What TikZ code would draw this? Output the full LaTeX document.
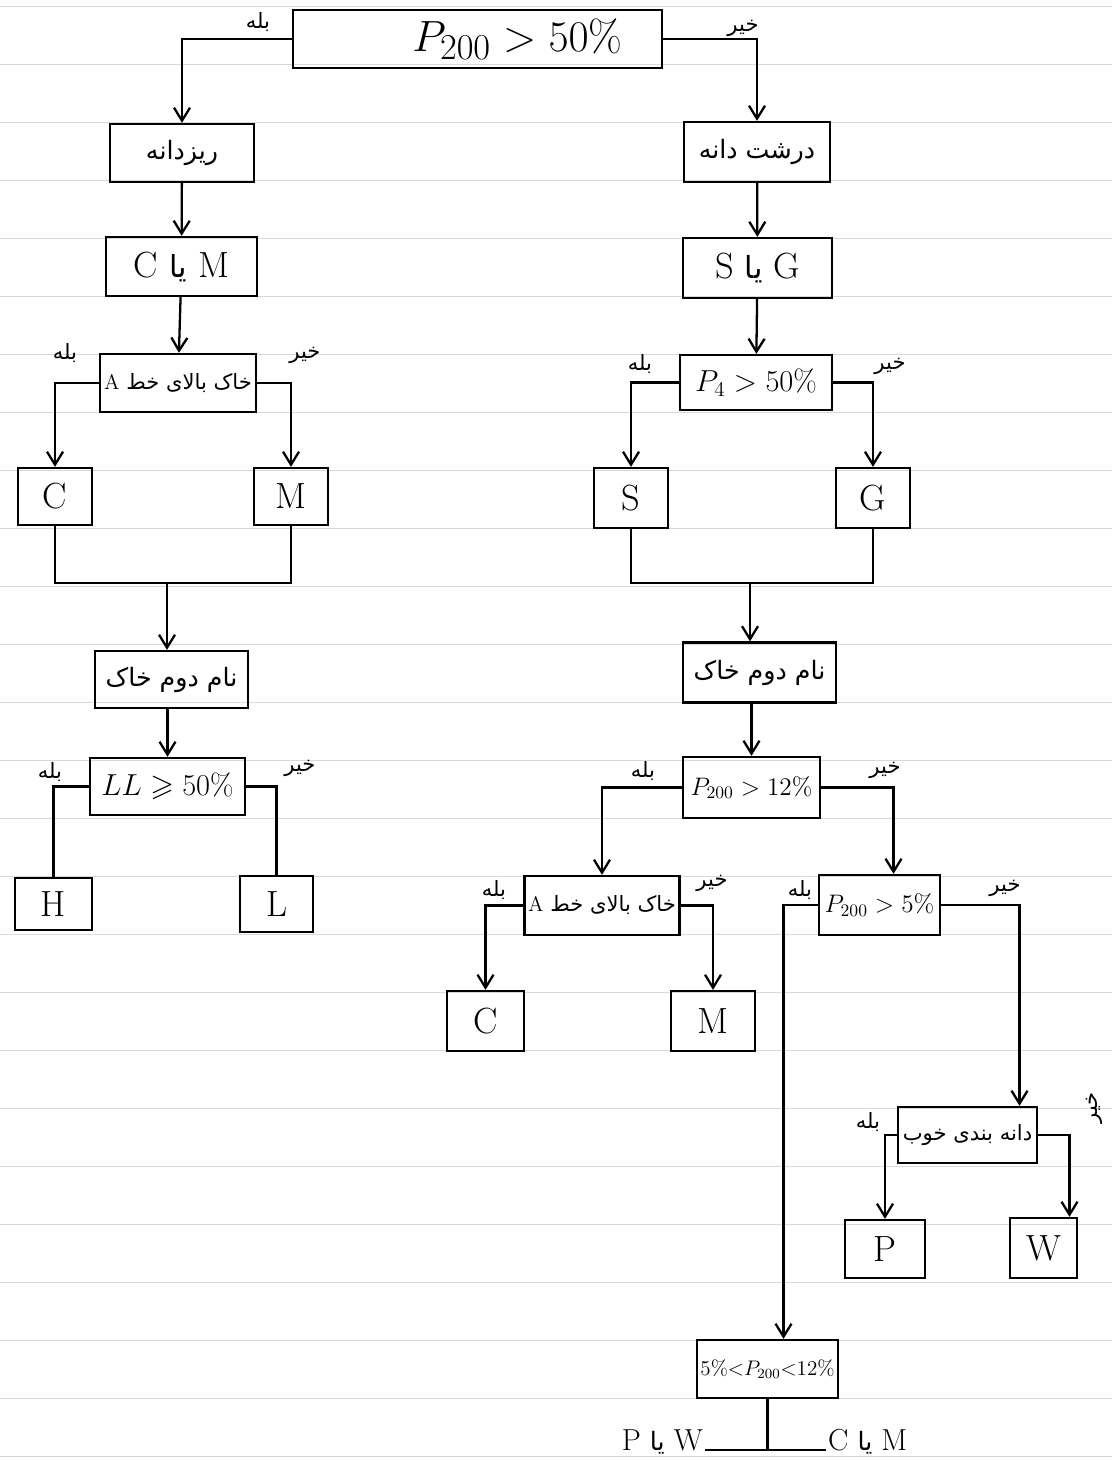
\documentclass[tikz,border=0pt]{standalone}
\usepackage{amsmath, amssymb}
\usepackage{fontspec}
\newfontfamily\arabicfont[Script=Arabic]{DejaVu Sans}
\TeXXeTstate=1
\newcommand{\farsi}[1]{{\arabicfont\beginR #1\endR}}
\usepackage{tikz}
\usetikzlibrary{
  arrows.meta%
}
\tikzset{>={Straight Barb[length=2.6mm,width=3.2mm]}}
\tikzset{box/.style={draw, line width=1.3pt, inner sep=2pt, font=\LARGE}}
\tikzset{fabox/.style={box, font=\Large}}
\tikzset{letter/.style={box, font=\huge}}
\tikzset{lab/.style={font=\large, inner sep=1pt}}
\tikzset{link/.style={line width=1.3pt}}
\tikzset{ruled/.style={gray!30, line width=0.5pt}}

\begin{document}
\begin{tikzpicture}[x=0.02cm, y=-0.02cm]
  \useasboundingbox (0,0) rectangle (1112,1460);
  % notebook lines
  \foreach \k in {0,...,25}
    \draw[ruled] (0,6+58*\k) -- (1112,6+58*\k);

  \node[box, font=\Huge, minimum width=7.38cm, minimum height=1.16cm] (top) at (477.5,39) {\hspace{1.6cm}$P_{200} > 50\%$};

  % fine grained
  \node[fabox, minimum width=2.88cm, minimum height=1.16cm] (fine) at (182,153) {\farsi{ریزدانه}};
  \node[letter, minimum width=3.02cm, minimum height=1.18cm] (cmL) at (181.5,266.5) {C {\LARGE\farsi{یا}} M};
  \node[fabox, font=\large, minimum width=3.12cm, minimum height=1.16cm] (aL) at (178,383) {A \farsi{خاک بالای خط}};
  \node[letter, minimum width=1.48cm, minimum height=1.14cm] (cL) at (55,496.5) {C};
  \node[letter, minimum width=1.48cm, minimum height=1.14cm] (mL) at (291,496.5) {M};
  \coordinate (joinL) at (167,583);
  \node[fabox, minimum width=3.06cm, minimum height=1.14cm] (nameL) at (171.5,679.5) {\farsi{نام دوم خاک}};
  \node[box, minimum width=3.1cm, minimum height=1.14cm] (ll) at (167.5,786.5) {$LL \geqslant 50\%$};
  \node[letter, minimum width=1.54cm, minimum height=1.04cm] (hL) at (53.5,904) {H};
  \node[letter, minimum width=1.46cm, minimum height=1.12cm] (lL) at (276.5,904) {L};

  % coarse grained
  \node[fabox, minimum width=2.92cm, minimum height=1.2cm] (coarse) at (757,152) {\farsi{درشت دانه}};
  \node[letter, minimum width=2.98cm, minimum height=1.2cm] (sgR) at (757.5,268) {S {\LARGE\farsi{یا}} G};
  \node[box, minimum width=3.04cm, minimum height=1.1cm] (p4) at (756,382.5) {$P_4 > 50\%$};
  \node[letter, minimum width=1.48cm, minimum height=1.2cm] (sR) at (631,498) {S};
  \node[letter, minimum width=1.48cm, minimum height=1.2cm] (gR) at (873,498) {G};
  \coordinate (joinR) at (750,583);
  \node[fabox, minimum width=3.06cm, minimum height=1.2cm] (nameR) at (759.5,672.5) {\farsi{نام دوم خاک}};
  \node[box, font=\Large, minimum width=2.74cm, minimum height=1.22cm] (p12) at (751.5,787.5) {$P_{200} > 12\%$};
  \node[fabox, font=\large, minimum width=3.04cm, minimum height=1.18cm] (aR) at (602,905.5) {A \farsi{خاک بالای خط}};
  \node[letter, minimum width=1.54cm, minimum height=1.2cm] (cR) at (485.5,1021) {C};
  \node[letter, minimum width=1.68cm, minimum height=1.2cm] (mR) at (713,1021) {M};
  \node[box, font=\Large, minimum width=2.42cm, minimum height=1.2cm] (p5) at (879.5,905) {$P_{200} > 5\%$};
  \node[fabox, font=\large, minimum width=2.78cm, minimum height=1.12cm] (grad) at (967.5,1135) {\farsi{دانه بندی خوب}};
  \node[letter, minimum width=1.6cm, minimum height=1.16cm] (pR) at (885,1249) {P};
  \node[letter, minimum width=1.34cm, minimum height=1.2cm] (wR) at (1043.5,1248) {W};
  \node[box, font=\large, minimum width=2.82cm, minimum height=1.16cm] (mid) at (767.5,1369) {$5\%{<}P_{200}{<}12\%$};
  \node[font=\LARGE, anchor=base east, inner sep=1pt] (pw) at (705,1450) {P {\Large\farsi{یا}} W};
  \node[font=\LARGE, anchor=base west, inner sep=1pt] (cmB) at (826,1450) {C {\Large\farsi{یا}} M};

  % yes / no labels
  \node[lab] (y0) at (258,22) {\farsi{بله}};
  \node[lab] (n0) at (743,28) {\farsi{خیر}};
  \node[lab] (y1) at (65,353) {\farsi{بله}};
  \node[lab] (n1) at (305,355) {\farsi{خیر}};
  \node[lab] (y2) at (640,364) {\farsi{بله}};
  \node[lab] (n2) at (890,366) {\farsi{خیر}};
  \node[lab] (y3) at (50,772) {\farsi{بله}};
  \node[lab] (n3) at (300,768) {\farsi{خیر}};
  \node[lab] (y4) at (643,771) {\farsi{بله}};
  \node[lab] (n4) at (885,770) {\farsi{خیر}};
  \node[lab] (y5) at (494,890) {\farsi{بله}};
  \node[lab] (n5) at (712,883) {\farsi{خیر}};
  \node[lab] (y6) at (800,890) {\farsi{بله}};
  \node[lab] (n6) at (1005,888) {\farsi{خیر}};
  \node[lab] (y7) at (868,1122) {\farsi{بله}};
  \node[lab, rotate=90] (n7) at (1094,1108) {\farsi{خیر}};

  % connectors, left
  \draw[link,->] (top.west) -| (fine.north);
  \draw[link,->] (fine) -- (cmL);
  \draw[link,->] (cmL) -- (aL);
  \draw[link,->] (aL.west) -| (cL.north);
  \draw[link,->] (aL.east) -| (mL.north);
  \draw[link] (cL.south) |- (joinL) -| (mL.south);
  \draw[link,->] (joinL) -- (joinL |- nameL.north);
  \draw[link,->] (nameL.south -| ll.north) -- (ll.north);
  \draw[link] (ll.west) -| (hL.north);
  \draw[link] (ll.east) -| (lL.north);

  % connectors, right
  \draw[link,->] (top.east) -| (coarse.north);
  \draw[link,->] (coarse) -- (sgR);
  \draw[link,->] (sgR) -- (p4);
  \draw[link,->] (p4.west) -| (sR.north);
  \draw[link,->] (p4.east) -| (gR.north);
  \draw[link] (sR.south) |- (joinR) -| (gR.south);
  \draw[link,->] (joinR) -- (joinR |- nameR.north);
  \draw[link,->] (nameR.south -| p12.north) -- (p12.north);
  \draw[link,->] (p12.west) -| (aR.north);
  \draw[link,->] (p12.east) -| ([xshift=0.28cm]p5.north);
  \draw[link,->] (aR.west) -| (cR.north);
  \draw[link,->] (aR.east) -| (mR.north);
  \draw[link,->] (p5.west) -| ([xshift=0.32cm]mid.north);
  \draw[link,->] (p5.east) -| ([xshift=1.04cm]grad.north);
  \draw[link,->] (grad.west) -| (pR.north);
  \draw[link,->] (grad.east) -| ([xshift=0.52cm]wR.north);
  \draw[link] (mid.south) -- (mid.south |- pw.base east);
  \draw[link] (pw.base east) -- (cmB.base west);
\end{tikzpicture}
\end{document}
